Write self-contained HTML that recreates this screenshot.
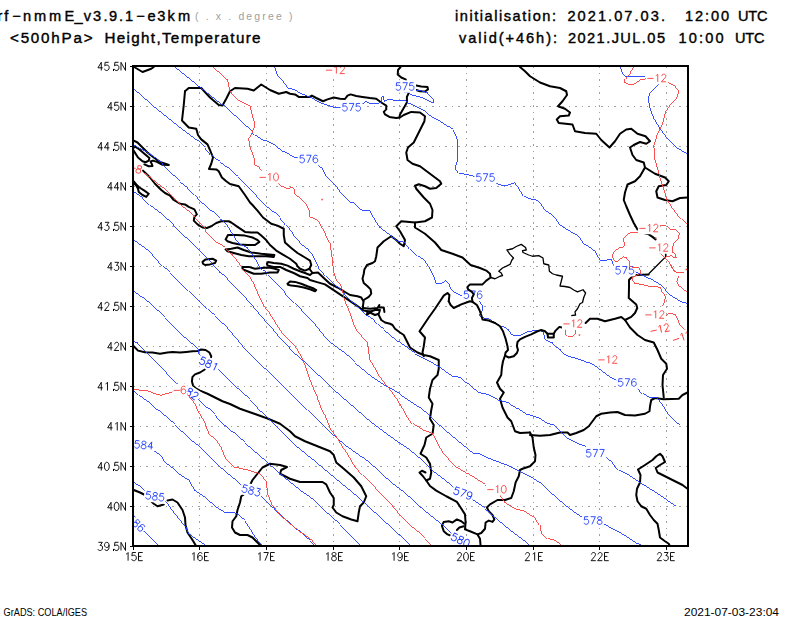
<!DOCTYPE html>
<html><head><meta charset="utf-8">
<style>
html,body{margin:0;padding:0;background:#fff;}
body{width:800px;height:618px;overflow:hidden;font-family:"Liberation Sans",sans-serif;}
svg{display:block;}
text{font-family:"Liberation Sans",sans-serif;fill:#000;}
.t1{font-size:14.6px;stroke:#000;stroke-width:0.4px;}
.tg{font-size:10.5px;fill:#a0a0a0;}
.tk{font-size:12.4px;}
.g line{stroke:#a0a0a0;stroke-width:1;stroke-dasharray:1.8 4.7;shape-rendering:crispEdges;}
.b{stroke:#1e3cff;stroke-width:0.9;fill:none;shape-rendering:crispEdges;}
.r{stroke:#fa3c3c;stroke-width:0.9;fill:none;shape-rendering:crispEdges;}
.k{stroke:#000;stroke-width:2;fill:none;stroke-linejoin:round;stroke-linecap:round;}
.n{stroke:#000;stroke-width:1.3;fill:none;stroke-linejoin:round;}
</style></head><body>
<svg width="800" height="618" viewBox="0 0 800 618">
<defs><clipPath id="cp"><rect x="133" y="66" width="555" height="480"/></clipPath></defs>
<rect width="800" height="618" fill="#fff"/>
<text class="t1" y="21.4" x="-2.4 4.3 12.2 23.1 33.9 48.9 64.4 74.4 83.8 92.9 103.5 108.9 119.0 125.0 136.2 147.4 157.2 167.6 177.9">rf−nmmE_v3.9.1−e3km</text>
<text class="tg" x="195" y="20" textLength="97.5" lengthAdjust="spacing" >( . x . degree )</text>
<text class="t1" transform="translate(10,43.1) scale(1.0,1)" textLength="82.5" lengthAdjust="spacing" style="font-size:15.2px">&lt;500hPa&gt;</text>
<text class="t1" transform="translate(104.5,43.1) scale(1.0,1)" textLength="156.0" lengthAdjust="spacing" style="font-size:15.2px">Height,Temperature</text>
<text class="t1" transform="translate(455,21.2) scale(1.0,1)" textLength="101.0" lengthAdjust="spacing" >initialisation:</text>
<text class="t1" transform="translate(567.4,21.2) scale(1.0,1)" textLength="97.6" lengthAdjust="spacing" >2021.07.03.</text>
<text class="t1" transform="translate(685,21.2) scale(1.0,1)" textLength="44.0" lengthAdjust="spacing" >12:00</text>
<text class="t1" transform="translate(738,21.2) scale(1.0,1)" textLength="29.5" lengthAdjust="spacing" >UTC</text>
<text class="t1" transform="translate(459,42.7) scale(1.0,1)" textLength="98.0" lengthAdjust="spacing" >valid(+46h):</text>
<text class="t1" transform="translate(568,42.7) scale(1.0,1)" textLength="97.0" lengthAdjust="spacing" >2021.JUL.05</text>
<text class="t1" transform="translate(678.5,42.7) scale(1.0,1)" textLength="45.0" lengthAdjust="spacing" >10:00</text>
<text class="t1" transform="translate(735,42.7) scale(1.0,1)" textLength="29.5" lengthAdjust="spacing" >UTC</text>

<g clip-path="url(#cp)">
<g class="g">
<line x1="199.5" y1="66" x2="199.5" y2="546"/>
<line x1="266.5" y1="66" x2="266.5" y2="546"/>
<line x1="333.5" y1="66" x2="333.5" y2="546"/>
<line x1="399.5" y1="66" x2="399.5" y2="546"/>
<line x1="466.5" y1="66" x2="466.5" y2="546"/>
<line x1="533.5" y1="66" x2="533.5" y2="546"/>
<line x1="599.5" y1="66" x2="599.5" y2="546"/>
<line x1="666.5" y1="66" x2="666.5" y2="546"/>
<line x1="133" y1="106.5" x2="688" y2="106.5"/>
<line x1="133" y1="146.5" x2="688" y2="146.5"/>
<line x1="133" y1="186.5" x2="688" y2="186.5"/>
<line x1="133" y1="226.5" x2="688" y2="226.5"/>
<line x1="133" y1="266.5" x2="688" y2="266.5"/>
<line x1="133" y1="306.5" x2="688" y2="306.5"/>
<line x1="133" y1="346.5" x2="688" y2="346.5"/>
<line x1="133" y1="386.5" x2="688" y2="386.5"/>
<line x1="133" y1="426.5" x2="688" y2="426.5"/>
<line x1="133" y1="466.5" x2="688" y2="466.5"/>
<line x1="133" y1="506.5" x2="688" y2="506.5"/>
</g>
<g>
<polyline class="k" points="135,67.5 142.5,72 151.25,68.75 153.75,67"/>
<polyline class="k" points="185,91.25 188.75,88 201.25,88 210,97.5 218.75,105 222.5,105.5 226.25,98.75 230,91.25 235,88 247.5,88.75 253.75,90.5 261.25,84.5 270,90 278.75,93.75 286.25,92 290,93.75 295,94.4 298.75,96.9 309.4,96.9 311.9,95.6 316.25,98 323,101.25 327.5,99.4 333.75,97.5 340,98.75 345,99 347.5,95.6 350.6,94.4 356.25,96 362.5,96.9 370,98 376.25,98.75 381.25,102.5 386.25,105.6 386.25,109.4 383.75,111.9 385,114.4 389.4,116.9 396.25,118 400,117.5 403.75,115 411.25,111.9 420,112.5 425,116.25 424.4,121.25 421.25,127.5 417.5,135 413.75,142.5 408,147.5 406.25,152.5 407.5,160 412.5,163.75 420,166.25 430,173.75 440,181.25 441.25,183.75 436.25,188 430,188.75 425,186.25 418.75,184.25 415,185.75 416.25,188.75 423.75,197.5 430,203.75 432.5,210 432,217.5 425,221.25 415,222.5 401.25,221.25 396.25,226.25 400,231.25 405,240 403.75,246.25 400,243.75 396.25,240 391.25,236.25 383.75,241.25 377.5,247.5 376.25,256.25 375,261.25 372.5,263 367,265 364.4,269.4 363.75,273.75 362.5,278.75 363.75,283 367.5,286.25 370.6,289.4 371.25,293.75 368.75,296.9 363.75,300 363,305.6 363,308"/>
<polyline class="k" points="185,91.25 183.75,105 182,120.5 188.75,127.5 196.25,128.75 198,135 201.25,139.4 207.5,144.4 210,150 213,157.5 211.25,163.75 209,169 216.25,169.4 218.75,171.25 221.9,177.5 226.25,181.25 230,184 238.75,186.25 245,195 250,202.5 252.5,205 257.5,210.6 263,217.5 271.25,223.75 277.5,225.6 283.75,228.75 283.75,235 285,242.5 291.25,248 297.5,253 305,257.5 310,260.6 311.25,265 309.4,268.75 305,270.6 300,268.75 297.5,266.25 296.25,263.75 290,258.75 282.5,254.4 276.25,250.6 270,245 265.6,239.4 261.25,235.6 257.5,232.5 251.25,232.5 245,231.9 237.5,226.9 231.25,222.5 228.75,221.25 221.25,221.25 216.25,223 211.25,226.25 206.9,228 202.5,227.5 197.5,224.4 193.75,220.6 194.4,216.9 196.9,214.4 194.4,209.4 188.75,206.9 185,204.4 180,203.75 173.75,200 170,195.6 165,193 161.25,190 155,183.75 150,177.5 146.25,173.75 143,170.6"/>
<polyline class="k" points="309.4,268.75 312.5,273 318,272.5 323.75,278 330,283.75 337.5,287.5 343.75,291.25 350,295 357.5,296.25 361.25,297.5 363,300.6"/>
<polyline class="k" points="312.5,273 310,275 305,273 300,271.25 293.75,268.75 287.5,265.6 281.25,263.75 273.75,263 268,261.9 266.9,263.75 267.5,265.6 273.75,266.9 280,266.9 286.25,270 293.75,273 300,276.25 307.5,278 310,280 316.25,281.9 325,284.4 332.5,289.4 340,294.4 347.5,299.4 355,304.4 361.25,308.75 363.75,310.6 367.5,311.25"/>
<polyline class="k" points="287.5,283.75 290,281.5 295,281.9 301.25,283.75 307.5,286.25 313.75,288.5 316.25,290 315,291.25 310,289.4 303.75,287.5 297.5,286.25 291.25,285.6 288,284.75 287.5,283.75"/>
<polyline class="k" points="225.6,239.4 228,235 236.25,235 245,235.6 252.5,237.5 257.5,240 259.4,241.9 255,245 247.5,245 240,244.4 232.5,243 227.5,241.25 225.6,239.4"/>
<polyline class="k" points="225.6,249.4 231.25,248.75 237.5,247.5 243.75,250 251.25,252.5 261.25,253.75 274.4,255 273.75,256.9 266.25,256.25 257.5,256.25 248.75,256.25 241.25,255 233.75,253 227.5,251.25 225.6,249.4"/>
<polyline class="k" points="241.9,266.9 248.75,266.9 255,268.75 261.25,268 268.75,267.5 275,268.75 278.75,270 277.5,272.5 270,272.5 261.25,273.75 253.75,273.75 247.5,271.25 243,269.4 241.9,266.9"/>
<polyline class="k" points="202.5,261.9 205.6,259.4 212.5,258.75 216.25,260.6 215,263 210,264.4 205,265 203,263.75 202.5,261.9"/>
<polyline class="k" points="133.75,140.6 137.5,142.5 141.25,146.25 147.5,152.5 153.75,157.5 160,161.9 167.5,164.4 168.75,165 162.5,164.75 156.9,161.9 153,160.6 150.6,161.5 151.9,164.4 152.5,166 148.75,166.25 144.4,164.4"/>
<polyline class="k" points="133.75,147.5 135.6,146.9 139.4,149.4 144.4,153.75 149.4,158 148.75,160.6 145.6,162.25 142.5,161.25 138,157.5 134.4,151.9 133.75,150.6"/>
<polyline class="k" points="133.75,181.25 136.25,184.4 139.4,187.5 144.4,190.6 148.75,193.75 146.25,196.9 142.5,195 138.75,191.9 138,188.75 136.25,185.6 133.75,183"/>
<polyline class="k" points="363,308 370,308.75 377.5,308 379.4,305 378,307.5 383.75,307.5 384.4,311.9"/>
<polyline class="k" points="367.5,311.25 366.9,315 370,312.5 375,315 378.75,313.75 380,310 375,310 371.25,311.25 367.5,311.25"/>
<polyline class="k" points="378.75,315 381.25,320 385,322.5 390,323.75 392.5,325 395,328.75 400,332.5 403.75,335 405,337.5 410,347.5 417.5,352.5 423.75,355 430,356.25 438.75,360 438.75,368.75 437.5,375 432.5,380 430,388.75 428.75,397.5 432.5,403.75 431.25,410 430,418.75 433.75,425 432.5,433.75 426.25,437.5 424.5,445 420.5,453.75 426.25,457.5 430,463.75 431.25,472.5 430,478.75 426.25,480.5 423,476.25 419.5,472.5 422,470.75 425.5,472.5"/>
<polyline class="k" points="426.25,480.5 430,486 436.25,490.6 446.25,496.25 456.9,501.9 460.6,507.5 465,514.4 465.6,522.5 465,529.4 470,531.25 477.5,534.4 480,538.75 480.6,546"/>
<polyline class="k" points="464.4,523.75 461.25,521.25 456.9,519.4 452.5,522.5 448.75,521.25 443.75,521.9 441.9,525.6 443.75,531.25 447.5,534.4 450.6,535.6"/>
<polyline class="k" points="547.5,333.75 548,337.5 553.75,337.5 553.75,333.75"/>
<polyline class="k" points="505,355.6 503,361.25 501.9,367.5 501.25,375 497,382.5 500,388.75 503.75,392.5 500,398.75 502.5,407.5 507.5,417.5 511.25,421.25 515,431.25 520,433 530,432.5"/>
<polyline class="k" points="530,435 540,435.75 550,435 560,432.5 567.5,432.5 570,435 576.25,433 583.75,430 588.75,426.25 592.5,421.25 596.25,416.25 601.25,413.75 610,412.5 617.5,412 625,415 635,415.5 645,413.75 649.5,411.25 650,406.25 651.25,400 655,398 663.75,399.25 678.75,398.75 682.5,395 687.5,392.5"/>
<polyline class="k" points="530,432.5 532.5,437.5 533.75,447.5 535.5,455 535,461.25 530,466.25 522.5,468.75 520,470 518.75,476.25 515.6,482.5 513.75,491.25 511.25,498 505,500 497.5,500 490,504.4 486.9,507.5 488.75,511.25 492.5,515 494.4,519.4 492.5,521.9 488.75,520.6 485.6,522.5 485,528.75 481.25,533 477.5,534.4"/>
<polyline class="k" points="585.6,323 590,318.75 597.5,318.75 605,321.25 615,318.75 621.25,317 625,320 630,327.5 637.5,335 645,340 653.75,342.5 657.5,350 661.25,358.75 666.25,363.75 667,368.75 663,375 662.5,385 663.75,397.5"/>
<polyline class="k" points="625,320 631.25,316.9 635,313 637.25,308 636.25,304.4 632.5,301.25 628.75,298 629,287.5 629,280 631.9,276.9 636.25,275 642.5,274.75 648.75,274.4"/>
<polyline class="k" points="520,67 525,71.25 530,76.25 540,82.5 550,86.25 560,88 566.25,91.25 567,95 562.5,101.25 558,106.25 565,108.75 570,112.5 568.75,115.5 560,116.25 556.75,119.5 558.75,123 572.5,124.5 575,131.25 585,133 596.25,133.75 601.25,140 609.5,147.5 615,141.25 620,133.75 626.25,129.5 631.25,128.75 637.5,133.75 645.5,136.25 650,141.25 646.25,143.75 640,142 633.75,145 630,147.5 632.5,155 636.25,160 643.75,162.5 645,167.5 655,173.75 665,177.5 668.75,181.25 666.25,185 658.75,186.25 656.25,191.25 657.5,197.5 665,200 672.5,201.25 680,198 687.5,197.5"/>
<polyline class="k" points="645,167.5 640,176.25 635,181.25 627.5,184.5 625,192.5 623.75,200 626.25,206.25 630,215 633.75,223 637.5,229.4 643.75,233 648.75,234.4 652.5,236.9 655.6,239.4"/>
<polyline class="k" points="416.25,85.6 421.25,86.5 427.5,86.9 428,89.4 425,91.5 420,91.25 416.25,90"/>
<polyline class="k" points="400.6,67 398,70 397.75,74.4 401.25,77.5 405.6,79.4 408,86 408.75,93 406.9,96.9 406.9,102.5 403.75,108 400,114.4 399.4,117.5"/>
<polyline class="k" points="133.75,346.25 138,350.6 145,352.25 152.5,352.5 160,353.75 167.5,352.5 172.5,351.9 180,352.5 186.25,351.9 192.5,351.25 198,351 201.25,349.4 205.6,350 209.4,352.5 211.25,356.25 209.5,363 204.4,369.75 200,372.5 195,374.4 192.5,376.9 191.9,381.25 193,385.6 196.25,388.75 200,390.6 207.5,393.75 215,397.5 222.5,401.25 230,404 240,408.75 255,414 267.5,418.5 280,423.75 290,431.25 295,436.25 305,441.25 317.5,446.25 330,451.25 333.75,455 336.25,462.5 343.75,468.75 353.75,477.5 361.25,486.25 366.25,496.25 363.75,502.5 360,506.25 358.75,512.5 357.5,521.25 351.25,519.5 342.5,516.25 336.25,512.5 332.5,507.5 333.75,505 333.75,498 330,492.5 326.25,484.4 322.5,482 310,482 300,482 290,478.75 280,473.75 281.25,470 287,467 280,465 270,463.75 262.5,467.5 257.5,473.75 252.5,480 248.75,487.5 245,493.75 241.25,496.25 240,502.5 237.5,510 236.25,516.25 232.5,521.25 232,527.5 235,532.5 240,535 247.5,535 252.5,537.5 257.5,542.5 261.25,546.25"/>
<polyline class="k" points="133.75,490 140,492.5 145,495 153.75,503.75 157.5,506.25 163.75,504.5"/>
<polyline class="k" points="167.5,500.5 172.5,499.5 177.5,502.5 182.5,510 185,517.5 185.5,525 187.5,532.5 192.5,540 196.25,546.25"/>
<polyline class="k" points="687.5,488.75 682.5,485 672.5,480 662.5,475 657.5,472.5 655.75,468 660,465 665,462 662.5,456.25 660,453.75 656.25,456.25 652.5,460 645,465 638,469.5 640.5,475 640,482.5 637,488.75 636.25,495 637.5,501.25 641.25,506.25 646.25,508.75 650,515 653.75,520 657.5,523.75 658.75,530 660,537.5 665,541.25 668.75,543.75 670,546.25"/>
<polyline class="k" points="463.75,526.25 459.4,527.5 456.9,530"/>
<polyline class="n" points="490.6,277.5 495,278.75 500,276.25 502.5,275.6 501.25,273 498.75,271.25 502.5,268 507.5,265.6 510,264.4 510,264.4 511.9,260 513.5,258 510,254.4 506.9,250 512.5,248.75 516.25,246.5 521.25,244.4 525.6,247.5 526.25,250 522.5,250.6 523,252.5 528.75,255 532.5,256.25 538.75,255.6 543,258 543.75,263.75 548.75,265 549.4,271.25 552.5,273.75 556.25,275 562.5,276.25 561.25,281.25 560,286 565,286.5 570,287.5 573.75,290 577.5,291.9 583,289.75 585.6,293 583.75,297.5 582.5,302.5 580,303.75 577.5,308.75 575,311.9 575.6,315 571.25,315.6"/>
<polyline class="n" points="665.6,251.9 665.6,256.9 658.75,263.75 653.75,268.75 648.75,273.75"/>

</g>
<g>
<polyline class="b" points="404.4,92.5 408.75,93 412.5,95.6 420,96.9 425,98.75 430,101.9 433,102.5 433.75,100.6 431.25,96.9 427.5,93 423.75,91.25 416.25,90 405,86.5 404.4,92.5"/>
<polyline class="b" points="274.5,67 277.5,75 285,83.75 288.5,88.6 293.75,89.4 300,93 307.5,96.25 315,100 322.5,103.75 332.5,107.25 340,107.25 351,107.25 362.5,103 365,101.25 371.25,103.75 377.5,103 381.25,101.9 381.9,96.9 383.5,96.5 384.4,101.25 388.75,99.4 395,100.25 405,100.25 407.5,103 417.5,107.5 426.25,112.5 432.5,117.5 440,121.25 447.5,126.25 453,130 455,133.75 457.5,140 457.5,160 455,167.5 458.75,173 468.75,175 473.75,176.25 485,178 495,182.5 502.5,185.75 510,184.5 515,182.5 518.75,187.5 523.75,196.25 530,198.75 536.25,200 540,203 545,210 553.75,216.25 560,225 570,231.25 578.75,236.25 583.75,243.75 590,247.5 595,251.25 598.75,258 600,260 605,260.6 610,259.4 611.9,260 612.5,263.75 615,266.9 616.25,268 624.7,270.3 636.25,272 640,273.75 646.25,276.9 653.75,280.6 660,284.4 665,289.4 670,295 676.25,298.75 682.5,302.25 687.5,303.5"/>
<polyline class="b" points="620,67 623,73.75 626.25,77 645,76.75"/>
<polyline class="b" points="660,83 655,87.5 649.5,92.5 648.25,97.5 650,107.5 655,120 660,128.75 667.5,138.75 677.5,148.75 687.5,154.5"/>
<polyline class="b" points="175,67 198.75,86.25 222.5,105 252.5,132.5 255,135 262.5,140 266.25,140.6 273.75,144.4 282.5,151.25 290,155 295,157.5 298.75,158 308.75,159 317,164 322.5,168.75 325.6,175.6 333,183 336.9,186.9 340.6,192.5 350,201.9 353.75,203 360,208.75 362.5,210 370,211.25 375,220 380,227.5 390,235 397.5,241.25 405,242.5 410,248.75 417.5,256.25 425,261.25 430,268.75 433.75,276.25 436.25,283.75 441.25,283.75 445.6,280.6 448.75,283.75 451.25,289.4 455,292.5 460,295 463,296.25 473,296 479.4,300.6 482.5,306.25 482.5,310.6 479.4,315 481.25,317.5 488.75,318.75 498.75,325 500,326.25 503.75,326.9 508,329.4 511.25,334.4 515,335.6 521.25,335 527.5,331.9 533.75,330.4 540,330.4 543.75,332.5 544.4,337.5 546.9,340.6 552.5,343 556.25,346.9 560,349.4 563.75,353.75 568.75,356.25 575,358 581.25,360 587.5,362.5 593.75,365 600,369.4 610,377 616.25,380 627.25,383 637.5,387.5 642.5,393.75 648.75,397.5 657.5,398 662.5,405 668.75,415 675,421.25 680,425"/>
<polyline class="b" points="133.75,88.75 155,107.5 180,127.5 197.5,140.6 205,147.5 211.25,155 217.5,160 220,161.9 227.5,167.5 237.5,176.9 245,184.4 252.5,191.25 260,200 265.6,205.5 272.5,211.25 280,217.5 286.25,225 292.5,232.5 297.5,239.4 301.25,244.4 307.5,248.75 312.5,255 315,260 318.75,267.5 326.25,276.25 333.75,283.75 341.25,290 346.25,296.25 352.5,302.5 360,309.4 366.25,315 372.5,318.75 377.5,324.4 383.75,330 390,335 397.5,341.25 415,353.75 430,361.25 440,367.5 452.5,376.25 460,377.5 467.5,383.75 477.5,392.5 487.5,394.5 497.5,400 507.5,402.5 517.5,408.75 525,413.75 530,415 537.5,417.5 545,422.5 553.75,425 560,431.25 567.5,438.75 577.5,443.75 585,446.25 595.25,453.25 606.25,457.5 612.5,462.5 618.75,470 628.75,475 640,482.5 650,488.75 660,495 668.75,501.25 676.25,506.25"/>
<polyline class="b" points="133.75,145 142.5,150 152.5,156.25 162.5,164.4 172.5,175 180,181.9 187.5,187.5 195,195 201.25,202.5 205,205 212.5,211.9 220,218.75 226.25,223.75 230,230 235,237.5 240,243.75 247.5,248 252.5,255 257.5,262.5 262.5,270 268,275 276.25,283 285,292.5 295,303 305,313.75 315,324.4 324.4,336 330,342 342.5,351.25 355,363 371.25,376.25 387.5,387 400,394.4 417.5,406.25 430,416.5 445,430 460,442.5 473.75,453.75 480,453.75 490,458.75 500,462.5 510,466.25 520,471.25 530,476.25 537.5,481.25 545,487.5 555,496.25 565,505 575,512.5 582.5,517.5 593,520.5 603.75,523.75 610,527.5 620,532.5 630,538.75 637.5,543.75 641.25,545.5"/>
<polyline class="b" points="133.75,191.5 142.5,197.5 150,205 160,212.5 170,221.25 180,231.9 190,241.25 200,251.25 210,261.25 220,272.5 223.75,275 232.5,284.4 242.5,294.4 251.25,304.4 257.5,311.9 265,320.6 272.5,328.75 280,338 285,343 291.25,350 302.5,360.6 317.5,375 330,386.5 350,403.75 370,421.25 390,436.25 410,450 425,462.5 435,472.5 445,480 453.75,487.5 463,493.25 472.5,500 485,508.75 495,517.5 510,530 525,541.25 530,545.5"/>
<polyline class="b" points="133.75,240 142.5,246.25 152.5,255.6 162.5,266.25 170,273 171.9,275 180,282.5 188.75,291.25 198.75,300.6 207.5,309.4 215,316.25 222.5,323.75 227.5,328 235,336.9 241.25,344.4 245.6,350 260,363.75 275,378 285,388 300,402.5 307.5,410 320,422.5 330,432 345,445 362.5,457.5 380,472.5 397.5,487.5 415,502.5 430,515 442.5,525 451.25,533.75 460.5,540 470,547"/>
<polyline class="b" points="133.75,291.25 142.5,297.5 152.5,306.25 165,318 176.25,329.4 185,337.5 188,340 193.75,345 198,349.4 198.75,353.75 208.75,363.75 219.4,370 225,375.6 230,381 237.5,388.75 250,400 259.4,410 270,420 280,430 290,440 297.5,447.5 307.5,456.25 316.25,462.5 333.75,476.9 345,486.25 360,498.75 375,512.5 390,526.25 405,540 411.25,546.25"/>
<polyline class="b" points="133.75,341.25 137.5,343 142.5,348.75 152.5,358.75 162.5,368.75 171.25,378 175.6,382.5 187,391 198.75,399.4 207.5,408 215,415 220,421.25 232.5,432 245,443 256,452.5 266.25,461.25 280,473.75 287,479.5 300,490 312.5,498.75 327.5,513.75 340,525 350,535 360,545 362,547"/>
<polyline class="b" points="133.75,389.5 138.75,395 145,399.4 151.25,403.75 156.25,409.4 157.5,410 175,425 192.5,441.25 210,457.5 225,471.25 237.5,481.25 241.25,485 251.25,490.5 261.25,496.25 272.5,507.5 285,518.75 297.5,530 310,541.25 315,546.25"/>
<polyline class="b" points="133.75,440 143.75,445 153.75,450.8 161.25,455.6 164.4,461.9 171.25,466.9 181.25,475.6 188.75,480 195,490.6 206.25,498 215,506.25 225,512.5 235,513 237.5,514.4 245,521.25 252.5,532.5 260,542.5 263.75,546.25"/>
<polyline class="b" points="133.75,482.5 140,486.25 145,491.25 154.25,496.25 166.3,502 172.5,510.6 179.4,519.6 186.2,527.6 188.4,533.2 195.2,538.3 205,545 208,547"/>
<polyline class="b" points="133.75,522 136,525 143.75,531.25 152.5,540 158.75,546.25"/>

<rect transform="translate(405,86.5) rotate(0)" x="-11.0" y="-6.25" width="22.0" height="12.5" fill="#fff"/><g transform="translate(405,86.5) scale(0.95,0.95)" fill="none" stroke="#1e3cff" stroke-width="0.95" shape-rendering="crispEdges" stroke-linejoin="round"><polyline points="-5.00,-4.00 -8.80,-4.00 -9.20,-0.60 -8.60,-1.00 -7.50,-1.30 -6.50,-1.30 -5.40,-0.90 -4.70,0.00 -4.50,1.20 -4.70,2.40 -5.40,3.40 -6.50,4.00 -7.50,4.00 -8.60,3.60 -9.20,3.10 -9.50,2.40"/><polyline points="-2.50,-4.00 2.50,-4.00 -1.10,4.00"/><polyline points="9.00,-4.00 5.20,-4.00 4.80,-0.60 5.40,-1.00 6.50,-1.30 7.50,-1.30 8.60,-0.90 9.30,0.00 9.50,1.20 9.30,2.40 8.60,3.40 7.50,4.00 6.50,4.00 5.40,3.60 4.80,3.10 4.50,2.40"/></g>
<rect transform="translate(351.5,107.25) rotate(0)" x="-11.0" y="-6.25" width="22.0" height="12.5" fill="#fff"/><g transform="translate(351.5,107.25) scale(0.95,0.95)" fill="none" stroke="#1e3cff" stroke-width="0.95" shape-rendering="crispEdges" stroke-linejoin="round"><polyline points="-5.00,-4.00 -8.80,-4.00 -9.20,-0.60 -8.60,-1.00 -7.50,-1.30 -6.50,-1.30 -5.40,-0.90 -4.70,0.00 -4.50,1.20 -4.70,2.40 -5.40,3.40 -6.50,4.00 -7.50,4.00 -8.60,3.60 -9.20,3.10 -9.50,2.40"/><polyline points="-2.50,-4.00 2.50,-4.00 -1.10,4.00"/><polyline points="9.00,-4.00 5.20,-4.00 4.80,-0.60 5.40,-1.00 6.50,-1.30 7.50,-1.30 8.60,-0.90 9.30,0.00 9.50,1.20 9.30,2.40 8.60,3.40 7.50,4.00 6.50,4.00 5.40,3.60 4.80,3.10 4.50,2.40"/></g>
<rect transform="translate(485.4,177.5) rotate(0)" x="-11.0" y="-6.25" width="22.0" height="12.5" fill="#fff"/><g transform="translate(485.4,177.5) scale(0.95,0.95)" fill="none" stroke="#1e3cff" stroke-width="0.95" shape-rendering="crispEdges" stroke-linejoin="round"><polyline points="-5.00,-4.00 -8.80,-4.00 -9.20,-0.60 -8.60,-1.00 -7.50,-1.30 -6.50,-1.30 -5.40,-0.90 -4.70,0.00 -4.50,1.20 -4.70,2.40 -5.40,3.40 -6.50,4.00 -7.50,4.00 -8.60,3.60 -9.20,3.10 -9.50,2.40"/><polyline points="-2.50,-4.00 2.50,-4.00 -1.10,4.00"/><polyline points="9.00,-4.00 5.20,-4.00 4.80,-0.60 5.40,-1.00 6.50,-1.30 7.50,-1.30 8.60,-0.90 9.30,0.00 9.50,1.20 9.30,2.40 8.60,3.40 7.50,4.00 6.50,4.00 5.40,3.60 4.80,3.10 4.50,2.40"/></g>
<rect transform="translate(624.7,270.3) rotate(0)" x="-11.0" y="-6.25" width="22.0" height="12.5" fill="#fff"/><g transform="translate(624.7,270.3) scale(0.95,0.95)" fill="none" stroke="#1e3cff" stroke-width="0.95" shape-rendering="crispEdges" stroke-linejoin="round"><polyline points="-5.00,-4.00 -8.80,-4.00 -9.20,-0.60 -8.60,-1.00 -7.50,-1.30 -6.50,-1.30 -5.40,-0.90 -4.70,0.00 -4.50,1.20 -4.70,2.40 -5.40,3.40 -6.50,4.00 -7.50,4.00 -8.60,3.60 -9.20,3.10 -9.50,2.40"/><polyline points="-2.50,-4.00 2.50,-4.00 -1.10,4.00"/><polyline points="9.00,-4.00 5.20,-4.00 4.80,-0.60 5.40,-1.00 6.50,-1.30 7.50,-1.30 8.60,-0.90 9.30,0.00 9.50,1.20 9.30,2.40 8.60,3.40 7.50,4.00 6.50,4.00 5.40,3.60 4.80,3.10 4.50,2.40"/></g>
<rect transform="translate(308.75,159) rotate(0)" x="-11.0" y="-6.25" width="22.0" height="12.5" fill="#fff"/><g transform="translate(308.75,159) scale(0.95,0.95)" fill="none" stroke="#1e3cff" stroke-width="0.95" shape-rendering="crispEdges" stroke-linejoin="round"><polyline points="-5.00,-4.00 -8.80,-4.00 -9.20,-0.60 -8.60,-1.00 -7.50,-1.30 -6.50,-1.30 -5.40,-0.90 -4.70,0.00 -4.50,1.20 -4.70,2.40 -5.40,3.40 -6.50,4.00 -7.50,4.00 -8.60,3.60 -9.20,3.10 -9.50,2.40"/><polyline points="-2.50,-4.00 2.50,-4.00 -1.10,4.00"/><polyline points="9.10,-2.90 8.70,-3.60 7.70,-4.00 6.90,-4.00 5.80,-3.50 5.00,-2.40 4.60,-0.60 4.60,1.40 5.00,2.90 5.80,3.70 6.80,4.00 7.30,4.00 8.40,3.60 9.10,2.80 9.50,1.60 9.50,1.20 9.10,0.00 8.40,-0.80 7.30,-1.10 6.80,-1.10 5.80,-0.70 5.00,0.10 4.60,1.20"/></g>
<rect transform="translate(473,294.75) rotate(0)" x="-11.0" y="-6.25" width="22.0" height="12.5" fill="#fff"/><g transform="translate(473,294.75) scale(0.95,0.95)" fill="none" stroke="#1e3cff" stroke-width="0.95" shape-rendering="crispEdges" stroke-linejoin="round"><polyline points="-5.00,-4.00 -8.80,-4.00 -9.20,-0.60 -8.60,-1.00 -7.50,-1.30 -6.50,-1.30 -5.40,-0.90 -4.70,0.00 -4.50,1.20 -4.70,2.40 -5.40,3.40 -6.50,4.00 -7.50,4.00 -8.60,3.60 -9.20,3.10 -9.50,2.40"/><polyline points="-2.50,-4.00 2.50,-4.00 -1.10,4.00"/><polyline points="9.10,-2.90 8.70,-3.60 7.70,-4.00 6.90,-4.00 5.80,-3.50 5.00,-2.40 4.60,-0.60 4.60,1.40 5.00,2.90 5.80,3.70 6.80,4.00 7.30,4.00 8.40,3.60 9.10,2.80 9.50,1.60 9.50,1.20 9.10,0.00 8.40,-0.80 7.30,-1.10 6.80,-1.10 5.80,-0.70 5.00,0.10 4.60,1.20"/></g>
<rect transform="translate(627.25,382.5) rotate(0)" x="-11.0" y="-6.25" width="22.0" height="12.5" fill="#fff"/><g transform="translate(627.25,382.5) scale(0.95,0.95)" fill="none" stroke="#1e3cff" stroke-width="0.95" shape-rendering="crispEdges" stroke-linejoin="round"><polyline points="-5.00,-4.00 -8.80,-4.00 -9.20,-0.60 -8.60,-1.00 -7.50,-1.30 -6.50,-1.30 -5.40,-0.90 -4.70,0.00 -4.50,1.20 -4.70,2.40 -5.40,3.40 -6.50,4.00 -7.50,4.00 -8.60,3.60 -9.20,3.10 -9.50,2.40"/><polyline points="-2.50,-4.00 2.50,-4.00 -1.10,4.00"/><polyline points="9.10,-2.90 8.70,-3.60 7.70,-4.00 6.90,-4.00 5.80,-3.50 5.00,-2.40 4.60,-0.60 4.60,1.40 5.00,2.90 5.80,3.70 6.80,4.00 7.30,4.00 8.40,3.60 9.10,2.80 9.50,1.60 9.50,1.20 9.10,0.00 8.40,-0.80 7.30,-1.10 6.80,-1.10 5.80,-0.70 5.00,0.10 4.60,1.20"/></g>
<rect transform="translate(595.25,453.25) rotate(0)" x="-11.0" y="-6.25" width="22.0" height="12.5" fill="#fff"/><g transform="translate(595.25,453.25) scale(0.95,0.95)" fill="none" stroke="#1e3cff" stroke-width="0.95" shape-rendering="crispEdges" stroke-linejoin="round"><polyline points="-5.00,-4.00 -8.80,-4.00 -9.20,-0.60 -8.60,-1.00 -7.50,-1.30 -6.50,-1.30 -5.40,-0.90 -4.70,0.00 -4.50,1.20 -4.70,2.40 -5.40,3.40 -6.50,4.00 -7.50,4.00 -8.60,3.60 -9.20,3.10 -9.50,2.40"/><polyline points="-2.50,-4.00 2.50,-4.00 -1.10,4.00"/><polyline points="4.50,-4.00 9.50,-4.00 5.90,4.00"/></g>
<rect transform="translate(593,520.5) rotate(0)" x="-11.0" y="-6.25" width="22.0" height="12.5" fill="#fff"/><g transform="translate(593,520.5) scale(0.95,0.95)" fill="none" stroke="#1e3cff" stroke-width="0.95" shape-rendering="crispEdges" stroke-linejoin="round"><polyline points="-5.00,-4.00 -8.80,-4.00 -9.20,-0.60 -8.60,-1.00 -7.50,-1.30 -6.50,-1.30 -5.40,-0.90 -4.70,0.00 -4.50,1.20 -4.70,2.40 -5.40,3.40 -6.50,4.00 -7.50,4.00 -8.60,3.60 -9.20,3.10 -9.50,2.40"/><polyline points="-2.50,-4.00 2.50,-4.00 -1.10,4.00"/><polyline points="6.40,-4.00 5.30,-3.60 4.90,-2.80 4.90,-2.10 5.30,-1.30 6.10,-0.80 7.70,-0.30 8.80,0.20 9.30,1.00 9.50,1.80 9.30,2.90 8.80,3.60 7.70,4.00 6.30,4.00 5.20,3.60 4.70,2.90 4.50,1.80 4.70,1.00 5.20,0.20 6.30,-0.30 7.90,-0.80 8.70,-1.30 9.10,-2.10 9.10,-2.80 8.70,-3.60 7.60,-4.00 6.40,-4.00"/></g>
<rect transform="translate(463,493.25) rotate(20)" x="-11.0" y="-6.25" width="22.0" height="12.5" fill="#fff"/><g transform="translate(463,493.25) rotate(20) scale(0.95,0.95)" fill="none" stroke="#1e3cff" stroke-width="0.95" shape-rendering="crispEdges" stroke-linejoin="round"><polyline points="-5.00,-4.00 -8.80,-4.00 -9.20,-0.60 -8.60,-1.00 -7.50,-1.30 -6.50,-1.30 -5.40,-0.90 -4.70,0.00 -4.50,1.20 -4.70,2.40 -5.40,3.40 -6.50,4.00 -7.50,4.00 -8.60,3.60 -9.20,3.10 -9.50,2.40"/><polyline points="-2.50,-4.00 2.50,-4.00 -1.10,4.00"/><polyline points="9.40,-1.30 9.00,-0.10 8.20,0.70 7.20,1.10 6.80,1.10 5.70,0.70 4.90,-0.10 4.50,-1.30 4.50,-1.70 4.90,-2.90 5.70,-3.60 6.80,-4.00 7.20,-4.00 8.20,-3.60 9.00,-2.90 9.40,-1.30 9.40,0.60 9.00,2.40 8.20,3.60 7.20,4.00 6.40,4.00 5.30,3.60 4.90,2.90"/></g>
<rect transform="translate(460.5,540) rotate(25)" x="-11.0" y="-6.25" width="22.0" height="12.5" fill="#fff"/><g transform="translate(460.5,540) rotate(25) scale(0.95,0.95)" fill="none" stroke="#1e3cff" stroke-width="0.95" shape-rendering="crispEdges" stroke-linejoin="round"><polyline points="-5.00,-4.00 -8.80,-4.00 -9.20,-0.60 -8.60,-1.00 -7.50,-1.30 -6.50,-1.30 -5.40,-0.90 -4.70,0.00 -4.50,1.20 -4.70,2.40 -5.40,3.40 -6.50,4.00 -7.50,4.00 -8.60,3.60 -9.20,3.10 -9.50,2.40"/><polyline points="-0.60,-4.00 -1.70,-3.60 -2.10,-2.80 -2.10,-2.10 -1.70,-1.30 -0.90,-0.80 0.70,-0.30 1.80,0.20 2.30,1.00 2.50,1.80 2.30,2.90 1.80,3.60 0.70,4.00 -0.70,4.00 -1.80,3.60 -2.30,2.90 -2.50,1.80 -2.30,1.00 -1.80,0.20 -0.70,-0.30 0.90,-0.80 1.70,-1.30 2.10,-2.10 2.10,-2.80 1.70,-3.60 0.60,-4.00 -0.60,-4.00"/><polyline points="6.50,-4.00 7.50,-4.00 8.70,-3.20 9.50,-1.40 9.50,1.40 8.70,3.20 7.50,4.00 6.50,4.00 5.30,3.20 4.50,1.40 4.50,-1.40 5.30,-3.20 6.50,-4.00"/></g>
<rect transform="translate(208.75,363.75) rotate(25)" x="-11.0" y="-6.25" width="22.0" height="12.5" fill="#fff"/><g transform="translate(208.75,363.75) rotate(25) scale(0.95,0.95)" fill="none" stroke="#1e3cff" stroke-width="0.95" shape-rendering="crispEdges" stroke-linejoin="round"><polyline points="-5.00,-4.00 -8.80,-4.00 -9.20,-0.60 -8.60,-1.00 -7.50,-1.30 -6.50,-1.30 -5.40,-0.90 -4.70,0.00 -4.50,1.20 -4.70,2.40 -5.40,3.40 -6.50,4.00 -7.50,4.00 -8.60,3.60 -9.20,3.10 -9.50,2.40"/><polyline points="-0.60,-4.00 -1.70,-3.60 -2.10,-2.80 -2.10,-2.10 -1.70,-1.30 -0.90,-0.80 0.70,-0.30 1.80,0.20 2.30,1.00 2.50,1.80 2.30,2.90 1.80,3.60 0.70,4.00 -0.70,4.00 -1.80,3.60 -2.30,2.90 -2.50,1.80 -2.30,1.00 -1.80,0.20 -0.70,-0.30 0.90,-0.80 1.70,-1.30 2.10,-2.10 2.10,-2.80 1.70,-3.60 0.60,-4.00 -0.60,-4.00"/><polyline points="5.70,-2.40 6.50,-2.80 7.70,-4.00 7.70,4.00"/></g>
<rect transform="translate(189.4,391.9) rotate(34)" x="-11.0" y="-6.25" width="22.0" height="12.5" fill="#fff"/><g transform="translate(189.4,391.9) rotate(34) scale(0.95,0.95)" fill="none" stroke="#1e3cff" stroke-width="0.95" shape-rendering="crispEdges" stroke-linejoin="round"><polyline points="-5.00,-4.00 -8.80,-4.00 -9.20,-0.60 -8.60,-1.00 -7.50,-1.30 -6.50,-1.30 -5.40,-0.90 -4.70,0.00 -4.50,1.20 -4.70,2.40 -5.40,3.40 -6.50,4.00 -7.50,4.00 -8.60,3.60 -9.20,3.10 -9.50,2.40"/><polyline points="-0.60,-4.00 -1.70,-3.60 -2.10,-2.80 -2.10,-2.10 -1.70,-1.30 -0.90,-0.80 0.70,-0.30 1.80,0.20 2.30,1.00 2.50,1.80 2.30,2.90 1.80,3.60 0.70,4.00 -0.70,4.00 -1.80,3.60 -2.30,2.90 -2.50,1.80 -2.30,1.00 -1.80,0.20 -0.70,-0.30 0.90,-0.80 1.70,-1.30 2.10,-2.10 2.10,-2.80 1.70,-3.60 0.60,-4.00 -0.60,-4.00"/><polyline points="4.80,-2.10 5.20,-3.00 6.10,-3.80 6.90,-4.00 7.70,-4.00 8.50,-3.60 9.10,-2.80 9.20,-1.90 8.90,-1.00 8.10,0.10 4.50,4.00 9.50,4.00"/></g>
<rect transform="translate(251.25,490.5) rotate(15)" x="-11.0" y="-6.25" width="22.0" height="12.5" fill="#fff"/><g transform="translate(251.25,490.5) rotate(15) scale(0.95,0.95)" fill="none" stroke="#1e3cff" stroke-width="0.95" shape-rendering="crispEdges" stroke-linejoin="round"><polyline points="-5.00,-4.00 -8.80,-4.00 -9.20,-0.60 -8.60,-1.00 -7.50,-1.30 -6.50,-1.30 -5.40,-0.90 -4.70,0.00 -4.50,1.20 -4.70,2.40 -5.40,3.40 -6.50,4.00 -7.50,4.00 -8.60,3.60 -9.20,3.10 -9.50,2.40"/><polyline points="-0.60,-4.00 -1.70,-3.60 -2.10,-2.80 -2.10,-2.10 -1.70,-1.30 -0.90,-0.80 0.70,-0.30 1.80,0.20 2.30,1.00 2.50,1.80 2.30,2.90 1.80,3.60 0.70,4.00 -0.70,4.00 -1.80,3.60 -2.30,2.90 -2.50,1.80 -2.30,1.00 -1.80,0.20 -0.70,-0.30 0.90,-0.80 1.70,-1.30 2.10,-2.10 2.10,-2.80 1.70,-3.60 0.60,-4.00 -0.60,-4.00"/><polyline points="5.00,-4.00 9.20,-4.00 6.90,-0.90 8.00,-0.90 8.80,-0.50 9.40,0.60 9.40,1.60 9.00,2.90 8.20,3.70 7.10,4.00 6.10,4.00 5.10,3.60 4.50,2.80"/></g>
<rect transform="translate(143.75,445) rotate(5)" x="-11.0" y="-6.25" width="22.0" height="12.5" fill="#fff"/><g transform="translate(143.75,445) rotate(5) scale(0.95,0.95)" fill="none" stroke="#1e3cff" stroke-width="0.95" shape-rendering="crispEdges" stroke-linejoin="round"><polyline points="-5.00,-4.00 -8.80,-4.00 -9.20,-0.60 -8.60,-1.00 -7.50,-1.30 -6.50,-1.30 -5.40,-0.90 -4.70,0.00 -4.50,1.20 -4.70,2.40 -5.40,3.40 -6.50,4.00 -7.50,4.00 -8.60,3.60 -9.20,3.10 -9.50,2.40"/><polyline points="-0.60,-4.00 -1.70,-3.60 -2.10,-2.80 -2.10,-2.10 -1.70,-1.30 -0.90,-0.80 0.70,-0.30 1.80,0.20 2.30,1.00 2.50,1.80 2.30,2.90 1.80,3.60 0.70,4.00 -0.70,4.00 -1.80,3.60 -2.30,2.90 -2.50,1.80 -2.30,1.00 -1.80,0.20 -0.70,-0.30 0.90,-0.80 1.70,-1.30 2.10,-2.10 2.10,-2.80 1.70,-3.60 0.60,-4.00 -0.60,-4.00"/><polyline points="8.10,-4.00 4.50,1.40 9.70,1.40"/><polyline points="8.10,-4.00 8.10,4.00"/></g>
<rect transform="translate(155,496.3) rotate(8)" x="-11.0" y="-6.25" width="22.0" height="12.5" fill="#fff"/><g transform="translate(155,496.3) rotate(8) scale(0.95,0.95)" fill="none" stroke="#1e3cff" stroke-width="0.95" shape-rendering="crispEdges" stroke-linejoin="round"><polyline points="-5.00,-4.00 -8.80,-4.00 -9.20,-0.60 -8.60,-1.00 -7.50,-1.30 -6.50,-1.30 -5.40,-0.90 -4.70,0.00 -4.50,1.20 -4.70,2.40 -5.40,3.40 -6.50,4.00 -7.50,4.00 -8.60,3.60 -9.20,3.10 -9.50,2.40"/><polyline points="-0.60,-4.00 -1.70,-3.60 -2.10,-2.80 -2.10,-2.10 -1.70,-1.30 -0.90,-0.80 0.70,-0.30 1.80,0.20 2.30,1.00 2.50,1.80 2.30,2.90 1.80,3.60 0.70,4.00 -0.70,4.00 -1.80,3.60 -2.30,2.90 -2.50,1.80 -2.30,1.00 -1.80,0.20 -0.70,-0.30 0.90,-0.80 1.70,-1.30 2.10,-2.10 2.10,-2.80 1.70,-3.60 0.60,-4.00 -0.60,-4.00"/><polyline points="9.00,-4.00 5.20,-4.00 4.80,-0.60 5.40,-1.00 6.50,-1.30 7.50,-1.30 8.60,-0.90 9.30,0.00 9.50,1.20 9.30,2.40 8.60,3.40 7.50,4.00 6.50,4.00 5.40,3.60 4.80,3.10 4.50,2.40"/></g>
<rect transform="translate(136.3,523.2) rotate(43)" x="-11.0" y="-6.25" width="22.0" height="12.5" fill="#fff"/><g transform="translate(136.3,523.2) rotate(43) scale(0.95,0.95)" fill="none" stroke="#1e3cff" stroke-width="0.95" shape-rendering="crispEdges" stroke-linejoin="round"><polyline points="-5.00,-4.00 -8.80,-4.00 -9.20,-0.60 -8.60,-1.00 -7.50,-1.30 -6.50,-1.30 -5.40,-0.90 -4.70,0.00 -4.50,1.20 -4.70,2.40 -5.40,3.40 -6.50,4.00 -7.50,4.00 -8.60,3.60 -9.20,3.10 -9.50,2.40"/><polyline points="-0.60,-4.00 -1.70,-3.60 -2.10,-2.80 -2.10,-2.10 -1.70,-1.30 -0.90,-0.80 0.70,-0.30 1.80,0.20 2.30,1.00 2.50,1.80 2.30,2.90 1.80,3.60 0.70,4.00 -0.70,4.00 -1.80,3.60 -2.30,2.90 -2.50,1.80 -2.30,1.00 -1.80,0.20 -0.70,-0.30 0.90,-0.80 1.70,-1.30 2.10,-2.10 2.10,-2.80 1.70,-3.60 0.60,-4.00 -0.60,-4.00"/><polyline points="9.10,-2.90 8.70,-3.60 7.70,-4.00 6.90,-4.00 5.80,-3.50 5.00,-2.40 4.60,-0.60 4.60,1.40 5.00,2.90 5.80,3.70 6.80,4.00 7.30,4.00 8.40,3.60 9.10,2.80 9.50,1.60 9.50,1.20 9.10,0.00 8.40,-0.80 7.30,-1.10 6.80,-1.10 5.80,-0.70 5.00,0.10 4.60,1.20"/></g>

<polyline class="k" points="448.75,301.25 449.4,295 447.5,293 443.75,295.6 440,301.25 435,308.75 428.75,317.5 423.75,325 419.5,331.25 425,337.5 423.75,346.25 422.5,352.5 423.75,356.25"/>
<polyline class="k" points="415,222.5 415,227.5 425,233.75 435,242.5 441.25,250 452.5,253.75 462.5,257.5 470.6,265 480,268 486.25,270.6 490,273.75 490.6,277.5 486.25,280.6 482.5,284.4 477.5,284.4 470,284.4 467.5,286.9 468,289.4 471.9,291.9 473.75,294.4 471.9,298 472.5,301.9"/>
<polyline class="k" points="448.75,301.25 450.6,305 453.75,308 461.25,304.4 470,301.25 472.5,301.9 476.9,305 479.4,310 481.25,315 482.5,319.4 488.75,320.6 495,323 500,326.25 503,331.25 505.6,338.75 507.5,346.25 508,350 505.6,352.5 505,355.6 508.75,357.5 513.75,356.25 516.9,353 518,350 516.9,346.25 517.5,342 520,339.4 525,336.9 531.25,334.4 537.5,331.25 541.25,330 545,331.25 547.5,333.75 553.75,333.75 555.6,330.6 559.4,326.9 561.9,327.5"/>

</g>
<g>
<polyline class="r" points="213,67 227.5,80 230,91.25 237.5,100 250,106.25 255,125 251.25,135 248.75,138.75 249.4,145 252.5,153.75 254.4,158.75 254.4,164.4 258.75,166.9 260,169.4 269.25,177 276.9,182.5 282.5,186.9 287.5,188.75 291.25,186.9 294.4,189.4 295,194.4 301.25,198.75 307.5,206.25 309.4,211.25 310,216.9 315,218.75 318.75,221.25 320,224.4 325,232.5 330,243 332.5,260 333.5,271.25 336.25,280 340.6,285 343,292.5 345,301.25 348.75,310 351.25,316.25 353.75,325 356.25,330 360.6,335 367.5,342.5 370,360 377.5,372.5 387.5,386.25 397.5,400 405,412.5 412.5,423.75 422.5,430 432.5,433.75 437.5,442.5 445,455 455,466.25 467.5,473.75 477.5,480 485,485 497,489.25 500,495 505,502.5 515,508.75 525,511.25 530,515 535,517.5 540,525 541.25,532.5 547.5,538.75 555,540.5 560,543.75 561.25,545.5"/>
<polyline class="r" points="143,172.25 148.75,176.25 155,181.25 162.5,187.5 170,194.4 176.25,200 181.25,205 187.5,210.6 195,217.5 200,222.5 205,227.5 205.6,231.25 211.25,237.5 217.5,243 225,248 232.5,255 237.5,261.25 241.9,267.5 246.9,272.5 250,276.9 253.75,283.75 257.5,292.5 262.5,302.5 267.5,310 273.75,320 280,330 283.75,335 295,346.25 301.25,356.25 305,365 308.75,376.25 312.5,386.25 317.5,397.5 321.25,407.5 325,415 330,427.5 337.5,437.5 345,450 352.5,462.5 362.5,475 375,487.5 387.5,500 400,515 412.5,527.5 425,538.75 432.5,546.25"/>
<polyline class="r" points="133.75,389.25 142.5,390.6 150,391.25 155,393.75 160.6,395.25 166.25,393.75 170.6,392.5 180,390 186.9,393 190,398 195,403.75 197.5,410 205,422.5 210,435 216.25,440 221.25,447.5 226.25,458.75 233.75,466.9 245,469.4 250,470.6 260,473.75 266.25,481.25 267.5,492.5 272.5,505 280,515 290,523.75 302.5,533.75 312.5,541.25 317.5,546.25"/>
<polyline class="r" points="633.75,67 630,72.5 625,78.75 624.5,82.5 628.75,85 635,83.75 640,80 646.25,78.75 657,78 668.75,83 675,86.25 678.75,91.25 676.25,98.75 670,105 665,112.5 662.5,122.5 657.5,132.5 653.75,145 655,160 658.75,172.5 662.5,185 666.25,197.5 669.4,202.5 672.5,207.5 676.25,212.5 681.25,218.75 685,222.5 687.5,223.5"/>
<polyline class="r" points="661.25,306.25 663.75,303.75 665,299.4 665,295.6 661.9,291.9 660.6,288 656.25,286.5 648.75,286.25 641.25,284.4 634.4,283 632.25,280 633,276.9 640,273.75 640.6,271.25 638.75,268 633.75,267.5 630,266.25 629.4,261.25 626.9,257.5 623,256.9 620,259.4 616.9,261.9 613.75,260 611.9,255 615,251.25 618.75,248 623,246.9 625,244.4 623,239.4 626.25,235.6 630.6,232.25 637.5,232.25 649,228 661.25,225.6 666.25,225.6 670,229.4 676.25,230 679.4,233.75 678,238.75 673.75,243 672.5,248.75 673,252.5 675,253.75 676.25,257.5 674.4,258 671.25,255.6 667.5,256.25 665,257.5"/>
<polyline class="r" points="658.75,252.5 665,257.5 668.75,261.25 671.25,266.25 673.75,270.6 676.25,272.5 682.5,272.5 684.4,272.25"/>
<polyline class="r" points="678.75,276.25 676.9,281.25 678.75,285.6 683.75,289.4 687.5,292.5"/>
<polyline class="r" points="671.25,265 672.5,268.75 676.25,272.5"/>
<polyline class="r" points="655.3,314.7 666.9,315.6 669.4,313 675,314.4 677.5,318.75 680,325 683.75,328.75 687.5,330.6"/>
<polyline class="r" points="565.6,328 565,332.5 568,336.25 572.5,336.25 575,333.75 575.6,330"/>
<rect x="321.3" y="198.8" width="1.5" height="1.5" fill="#fa3c3c"/><rect x="654.9" y="237.3" width="1.5" height="1.5" fill="#fa3c3c"/><rect x="685.55" y="268.7" width="1.5" height="1.5" fill="#fa3c3c"/><rect x="685.55" y="331.8" width="1.5" height="1.5" fill="#fa3c3c"/><rect x="578.6999999999999" y="334.3" width="1.5" height="1.5" fill="#fa3c3c"/>
<rect transform="translate(335.6,69.8) rotate(0)" x="-11.1" y="-6.25" width="22.2" height="12.5" fill="#fff"/><g transform="translate(335.6,69.8) scale(0.95,0.95)" fill="none" stroke="#fa3c3c" stroke-width="0.95" shape-rendering="crispEdges" stroke-linejoin="round"><polyline points="-10.20,0.40 -3.60,0.40"/><polyline points="-1.20,-2.40 -0.40,-2.80 0.80,-4.00 0.80,4.00"/><polyline points="4.90,-2.10 5.30,-3.00 6.20,-3.80 7.00,-4.00 7.80,-4.00 8.60,-3.60 9.20,-2.80 9.30,-1.90 9.00,-1.00 8.20,0.10 4.60,4.00 9.60,4.00"/></g>
<rect transform="translate(657,78) rotate(0)" x="-11.1" y="-6.25" width="22.2" height="12.5" fill="#fff"/><g transform="translate(657,78) scale(0.95,0.95)" fill="none" stroke="#fa3c3c" stroke-width="0.95" shape-rendering="crispEdges" stroke-linejoin="round"><polyline points="-10.20,0.40 -3.60,0.40"/><polyline points="-1.20,-2.40 -0.40,-2.80 0.80,-4.00 0.80,4.00"/><polyline points="4.90,-2.10 5.30,-3.00 6.20,-3.80 7.00,-4.00 7.80,-4.00 8.60,-3.60 9.20,-2.80 9.30,-1.90 9.00,-1.00 8.20,0.10 4.60,4.00 9.60,4.00"/></g>
<rect transform="translate(649,228) rotate(0)" x="-11.1" y="-6.25" width="22.2" height="12.5" fill="#fff"/><g transform="translate(649,228) scale(0.95,0.95)" fill="none" stroke="#fa3c3c" stroke-width="0.95" shape-rendering="crispEdges" stroke-linejoin="round"><polyline points="-10.20,0.40 -3.60,0.40"/><polyline points="-1.20,-2.40 -0.40,-2.80 0.80,-4.00 0.80,4.00"/><polyline points="4.90,-2.10 5.30,-3.00 6.20,-3.80 7.00,-4.00 7.80,-4.00 8.60,-3.60 9.20,-2.80 9.30,-1.90 9.00,-1.00 8.20,0.10 4.60,4.00 9.60,4.00"/></g>
<rect transform="translate(659,247.5) rotate(0)" x="-11.1" y="-6.25" width="22.2" height="12.5" fill="#fff"/><g transform="translate(659,247.5) scale(0.95,0.95)" fill="none" stroke="#fa3c3c" stroke-width="0.95" shape-rendering="crispEdges" stroke-linejoin="round"><polyline points="-10.20,0.40 -3.60,0.40"/><polyline points="-1.20,-2.40 -0.40,-2.80 0.80,-4.00 0.80,4.00"/><polyline points="4.90,-2.10 5.30,-3.00 6.20,-3.80 7.00,-4.00 7.80,-4.00 8.60,-3.60 9.20,-2.80 9.30,-1.90 9.00,-1.00 8.20,0.10 4.60,4.00 9.60,4.00"/></g>
<rect transform="translate(655,314.5) rotate(0)" x="-11.1" y="-6.25" width="22.2" height="12.5" fill="#fff"/><g transform="translate(655,314.5) scale(0.95,0.95)" fill="none" stroke="#fa3c3c" stroke-width="0.95" shape-rendering="crispEdges" stroke-linejoin="round"><polyline points="-10.20,0.40 -3.60,0.40"/><polyline points="-1.20,-2.40 -0.40,-2.80 0.80,-4.00 0.80,4.00"/><polyline points="4.90,-2.10 5.30,-3.00 6.20,-3.80 7.00,-4.00 7.80,-4.00 8.60,-3.60 9.20,-2.80 9.30,-1.90 9.00,-1.00 8.20,0.10 4.60,4.00 9.60,4.00"/></g>
<rect transform="translate(660,329) rotate(-12)" x="-11.1" y="-6.25" width="22.2" height="12.5" fill="#fff"/><g transform="translate(660,329) rotate(-12) scale(0.95,0.95)" fill="none" stroke="#fa3c3c" stroke-width="0.95" shape-rendering="crispEdges" stroke-linejoin="round"><polyline points="-10.20,0.40 -3.60,0.40"/><polyline points="-1.20,-2.40 -0.40,-2.80 0.80,-4.00 0.80,4.00"/><polyline points="4.90,-2.10 5.30,-3.00 6.20,-3.80 7.00,-4.00 7.80,-4.00 8.60,-3.60 9.20,-2.80 9.30,-1.90 9.00,-1.00 8.20,0.10 4.60,4.00 9.60,4.00"/></g>
<rect transform="translate(573,323.5) rotate(0)" x="-11.1" y="-6.25" width="22.2" height="12.5" fill="#fff"/><g transform="translate(573,323.5) scale(0.95,0.95)" fill="none" stroke="#fa3c3c" stroke-width="0.95" shape-rendering="crispEdges" stroke-linejoin="round"><polyline points="-10.20,0.40 -3.60,0.40"/><polyline points="-1.20,-2.40 -0.40,-2.80 0.80,-4.00 0.80,4.00"/><polyline points="4.90,-2.10 5.30,-3.00 6.20,-3.80 7.00,-4.00 7.80,-4.00 8.60,-3.60 9.20,-2.80 9.30,-1.90 9.00,-1.00 8.20,0.10 4.60,4.00 9.60,4.00"/></g>
<rect transform="translate(608,359.5) rotate(0)" x="-11.1" y="-6.25" width="22.2" height="12.5" fill="#fff"/><g transform="translate(608,359.5) scale(0.95,0.95)" fill="none" stroke="#fa3c3c" stroke-width="0.95" shape-rendering="crispEdges" stroke-linejoin="round"><polyline points="-10.20,0.40 -3.60,0.40"/><polyline points="-1.20,-2.40 -0.40,-2.80 0.80,-4.00 0.80,4.00"/><polyline points="4.90,-2.10 5.30,-3.00 6.20,-3.80 7.00,-4.00 7.80,-4.00 8.60,-3.60 9.20,-2.80 9.30,-1.90 9.00,-1.00 8.20,0.10 4.60,4.00 9.60,4.00"/></g>
<rect transform="translate(682.2,337) rotate(-18)" x="-11.1" y="-6.25" width="22.2" height="12.5" fill="#fff"/><g transform="translate(682.2,337) rotate(-18) scale(0.95,0.95)" fill="none" stroke="#fa3c3c" stroke-width="0.95" shape-rendering="crispEdges" stroke-linejoin="round"><polyline points="-10.20,0.40 -3.60,0.40"/><polyline points="-1.20,-2.40 -0.40,-2.80 0.80,-4.00 0.80,4.00"/><polyline points="4.90,-2.10 5.30,-3.00 6.20,-3.80 7.00,-4.00 7.80,-4.00 8.60,-3.60 9.20,-2.80 9.30,-1.90 9.00,-1.00 8.20,0.10 4.60,4.00 9.60,4.00"/></g>
<rect transform="translate(269.25,177) rotate(0)" x="-11.1" y="-6.25" width="22.2" height="12.5" fill="#fff"/><g transform="translate(269.25,177) scale(0.95,0.95)" fill="none" stroke="#fa3c3c" stroke-width="0.95" shape-rendering="crispEdges" stroke-linejoin="round"><polyline points="-10.20,0.40 -3.60,0.40"/><polyline points="-1.20,-2.40 -0.40,-2.80 0.80,-4.00 0.80,4.00"/><polyline points="6.60,-4.00 7.60,-4.00 8.80,-3.20 9.60,-1.40 9.60,1.40 8.80,3.20 7.60,4.00 6.60,4.00 5.40,3.20 4.60,1.40 4.60,-1.40 5.40,-3.20 6.60,-4.00"/></g>
<rect transform="translate(497,489.25) rotate(0)" x="-11.1" y="-6.25" width="22.2" height="12.5" fill="#fff"/><g transform="translate(497,489.25) scale(0.95,0.95)" fill="none" stroke="#fa3c3c" stroke-width="0.95" shape-rendering="crispEdges" stroke-linejoin="round"><polyline points="-10.20,0.40 -3.60,0.40"/><polyline points="-1.20,-2.40 -0.40,-2.80 0.80,-4.00 0.80,4.00"/><polyline points="6.60,-4.00 7.60,-4.00 8.80,-3.20 9.60,-1.40 9.60,1.40 8.80,3.20 7.60,4.00 6.60,4.00 5.40,3.20 4.60,1.40 4.60,-1.40 5.40,-3.20 6.60,-4.00"/></g>
<g transform="translate(135.7,168.2) rotate(20) scale(0.95,0.95)" fill="none" stroke="#fa3c3c" stroke-width="0.95" shape-rendering="crispEdges" stroke-linejoin="round"><polyline points="-6.70,0.40 -0.10,0.40"/><polyline points="3.00,-4.00 1.90,-3.60 1.50,-2.80 1.50,-2.10 1.90,-1.30 2.70,-0.80 4.30,-0.30 5.40,0.20 5.90,1.00 6.10,1.80 5.90,2.90 5.40,3.60 4.30,4.00 2.90,4.00 1.80,3.60 1.30,2.90 1.10,1.80 1.30,1.00 1.80,0.20 2.90,-0.30 4.50,-0.80 5.30,-1.30 5.70,-2.10 5.70,-2.80 5.30,-3.60 4.20,-4.00 3.00,-4.00"/></g>
<rect transform="translate(180,390) rotate(0)" x="-7.6" y="-6.25" width="15.2" height="12.5" fill="#fff"/><g transform="translate(180,390) scale(0.95,0.95)" fill="none" stroke="#fa3c3c" stroke-width="0.95" shape-rendering="crispEdges" stroke-linejoin="round"><polyline points="-6.70,0.40 -0.10,0.40"/><polyline points="5.70,-2.90 5.30,-3.60 4.30,-4.00 3.50,-4.00 2.40,-3.50 1.60,-2.40 1.20,-0.60 1.20,1.40 1.60,2.90 2.40,3.70 3.40,4.00 3.90,4.00 5.00,3.60 5.70,2.80 6.10,1.60 6.10,1.20 5.70,0.00 5.00,-0.80 3.90,-1.10 3.40,-1.10 2.40,-0.70 1.60,0.10 1.20,1.20"/></g>

</g>
</g>
<rect x="133" y="66" width="555" height="480" fill="none" stroke="#000" stroke-width="2" shape-rendering="crispEdges"/>
<line x1="133.5" y1="547" x2="133.5" y2="549.5" stroke="#000" stroke-width="1" shape-rendering="crispEdges"/>
<g transform="translate(134,556.6) scale(0.9384,1.02)" fill="none" stroke="#000" stroke-width="0.95" shape-rendering="crispEdges" stroke-linejoin="round"><polyline points="-8.30,-2.40 -7.50,-2.80 -6.30,-4.00 -6.30,4.00"/><polyline points="2.00,-4.00 -1.80,-4.00 -2.20,-0.60 -1.60,-1.00 -0.50,-1.30 0.50,-1.30 1.60,-0.90 2.30,0.00 2.50,1.20 2.30,2.40 1.60,3.40 0.50,4.00 -0.50,4.00 -1.60,3.60 -2.20,3.10 -2.50,2.40"/><polyline points="9.30,-4.00 4.80,-4.00 4.80,4.00 9.30,4.00"/><polyline points="4.80,-0.20 7.80,-0.20"/></g>
<line x1="199.5" y1="547" x2="199.5" y2="549.5" stroke="#000" stroke-width="1" shape-rendering="crispEdges"/>
<g transform="translate(200,556.6) scale(0.9384,1.02)" fill="none" stroke="#000" stroke-width="0.95" shape-rendering="crispEdges" stroke-linejoin="round"><polyline points="-8.30,-2.40 -7.50,-2.80 -6.30,-4.00 -6.30,4.00"/><polyline points="2.10,-2.90 1.70,-3.60 0.70,-4.00 -0.10,-4.00 -1.20,-3.50 -2.00,-2.40 -2.40,-0.60 -2.40,1.40 -2.00,2.90 -1.20,3.70 -0.20,4.00 0.30,4.00 1.40,3.60 2.10,2.80 2.50,1.60 2.50,1.20 2.10,0.00 1.40,-0.80 0.30,-1.10 -0.20,-1.10 -1.20,-0.70 -2.00,0.10 -2.40,1.20"/><polyline points="9.30,-4.00 4.80,-4.00 4.80,4.00 9.30,4.00"/><polyline points="4.80,-0.20 7.80,-0.20"/></g>
<line x1="266.5" y1="547" x2="266.5" y2="549.5" stroke="#000" stroke-width="1" shape-rendering="crispEdges"/>
<g transform="translate(266,556.6) scale(0.9384,1.02)" fill="none" stroke="#000" stroke-width="0.95" shape-rendering="crispEdges" stroke-linejoin="round"><polyline points="-8.30,-2.40 -7.50,-2.80 -6.30,-4.00 -6.30,4.00"/><polyline points="-2.50,-4.00 2.50,-4.00 -1.10,4.00"/><polyline points="9.30,-4.00 4.80,-4.00 4.80,4.00 9.30,4.00"/><polyline points="4.80,-0.20 7.80,-0.20"/></g>
<line x1="333.5" y1="547" x2="333.5" y2="549.5" stroke="#000" stroke-width="1" shape-rendering="crispEdges"/>
<g transform="translate(334,556.6) scale(0.9384,1.02)" fill="none" stroke="#000" stroke-width="0.95" shape-rendering="crispEdges" stroke-linejoin="round"><polyline points="-8.30,-2.40 -7.50,-2.80 -6.30,-4.00 -6.30,4.00"/><polyline points="-0.60,-4.00 -1.70,-3.60 -2.10,-2.80 -2.10,-2.10 -1.70,-1.30 -0.90,-0.80 0.70,-0.30 1.80,0.20 2.30,1.00 2.50,1.80 2.30,2.90 1.80,3.60 0.70,4.00 -0.70,4.00 -1.80,3.60 -2.30,2.90 -2.50,1.80 -2.30,1.00 -1.80,0.20 -0.70,-0.30 0.90,-0.80 1.70,-1.30 2.10,-2.10 2.10,-2.80 1.70,-3.60 0.60,-4.00 -0.60,-4.00"/><polyline points="9.30,-4.00 4.80,-4.00 4.80,4.00 9.30,4.00"/><polyline points="4.80,-0.20 7.80,-0.20"/></g>
<line x1="399.5" y1="547" x2="399.5" y2="549.5" stroke="#000" stroke-width="1" shape-rendering="crispEdges"/>
<g transform="translate(400,556.6) scale(0.9384,1.02)" fill="none" stroke="#000" stroke-width="0.95" shape-rendering="crispEdges" stroke-linejoin="round"><polyline points="-8.30,-2.40 -7.50,-2.80 -6.30,-4.00 -6.30,4.00"/><polyline points="2.40,-1.30 2.00,-0.10 1.20,0.70 0.20,1.10 -0.20,1.10 -1.30,0.70 -2.10,-0.10 -2.50,-1.30 -2.50,-1.70 -2.10,-2.90 -1.30,-3.60 -0.20,-4.00 0.20,-4.00 1.20,-3.60 2.00,-2.90 2.40,-1.30 2.40,0.60 2.00,2.40 1.20,3.60 0.20,4.00 -0.60,4.00 -1.70,3.60 -2.10,2.90"/><polyline points="9.30,-4.00 4.80,-4.00 4.80,4.00 9.30,4.00"/><polyline points="4.80,-0.20 7.80,-0.20"/></g>
<line x1="466.5" y1="547" x2="466.5" y2="549.5" stroke="#000" stroke-width="1" shape-rendering="crispEdges"/>
<g transform="translate(466,556.6) scale(0.9384,1.02)" fill="none" stroke="#000" stroke-width="0.95" shape-rendering="crispEdges" stroke-linejoin="round"><polyline points="-9.20,-2.10 -8.80,-3.00 -7.90,-3.80 -7.10,-4.00 -6.30,-4.00 -5.50,-3.60 -4.90,-2.80 -4.80,-1.90 -5.10,-1.00 -5.90,0.10 -9.50,4.00 -4.50,4.00"/><polyline points="-0.50,-4.00 0.50,-4.00 1.70,-3.20 2.50,-1.40 2.50,1.40 1.70,3.20 0.50,4.00 -0.50,4.00 -1.70,3.20 -2.50,1.40 -2.50,-1.40 -1.70,-3.20 -0.50,-4.00"/><polyline points="9.30,-4.00 4.80,-4.00 4.80,4.00 9.30,4.00"/><polyline points="4.80,-0.20 7.80,-0.20"/></g>
<line x1="533.5" y1="547" x2="533.5" y2="549.5" stroke="#000" stroke-width="1" shape-rendering="crispEdges"/>
<g transform="translate(534,556.6) scale(0.9384,1.02)" fill="none" stroke="#000" stroke-width="0.95" shape-rendering="crispEdges" stroke-linejoin="round"><polyline points="-9.20,-2.10 -8.80,-3.00 -7.90,-3.80 -7.10,-4.00 -6.30,-4.00 -5.50,-3.60 -4.90,-2.80 -4.80,-1.90 -5.10,-1.00 -5.90,0.10 -9.50,4.00 -4.50,4.00"/><polyline points="-1.30,-2.40 -0.50,-2.80 0.70,-4.00 0.70,4.00"/><polyline points="9.30,-4.00 4.80,-4.00 4.80,4.00 9.30,4.00"/><polyline points="4.80,-0.20 7.80,-0.20"/></g>
<line x1="599.5" y1="547" x2="599.5" y2="549.5" stroke="#000" stroke-width="1" shape-rendering="crispEdges"/>
<g transform="translate(600,556.6) scale(0.9384,1.02)" fill="none" stroke="#000" stroke-width="0.95" shape-rendering="crispEdges" stroke-linejoin="round"><polyline points="-9.20,-2.10 -8.80,-3.00 -7.90,-3.80 -7.10,-4.00 -6.30,-4.00 -5.50,-3.60 -4.90,-2.80 -4.80,-1.90 -5.10,-1.00 -5.90,0.10 -9.50,4.00 -4.50,4.00"/><polyline points="-2.20,-2.10 -1.80,-3.00 -0.90,-3.80 -0.10,-4.00 0.70,-4.00 1.50,-3.60 2.10,-2.80 2.20,-1.90 1.90,-1.00 1.10,0.10 -2.50,4.00 2.50,4.00"/><polyline points="9.30,-4.00 4.80,-4.00 4.80,4.00 9.30,4.00"/><polyline points="4.80,-0.20 7.80,-0.20"/></g>
<line x1="666.5" y1="547" x2="666.5" y2="549.5" stroke="#000" stroke-width="1" shape-rendering="crispEdges"/>
<g transform="translate(666,556.6) scale(0.9384,1.02)" fill="none" stroke="#000" stroke-width="0.95" shape-rendering="crispEdges" stroke-linejoin="round"><polyline points="-9.20,-2.10 -8.80,-3.00 -7.90,-3.80 -7.10,-4.00 -6.30,-4.00 -5.50,-3.60 -4.90,-2.80 -4.80,-1.90 -5.10,-1.00 -5.90,0.10 -9.50,4.00 -4.50,4.00"/><polyline points="-2.00,-4.00 2.20,-4.00 -0.10,-0.90 1.00,-0.90 1.80,-0.50 2.40,0.60 2.40,1.60 2.00,2.90 1.20,3.70 0.10,4.00 -0.90,4.00 -1.90,3.60 -2.50,2.80"/><polyline points="9.30,-4.00 4.80,-4.00 4.80,4.00 9.30,4.00"/><polyline points="4.80,-0.20 7.80,-0.20"/></g>
<line x1="129.5" y1="66.5" x2="132" y2="66.5" stroke="#000" stroke-width="1" shape-rendering="crispEdges"/>
<g transform="translate(125.5,66.4) scale(0.9384,1.02)" fill="none" stroke="#000" stroke-width="0.95" shape-rendering="crispEdges" stroke-linejoin="round"><polyline points="-25.80,-4.00 -29.40,1.40 -24.20,1.40"/><polyline points="-25.80,-4.00 -25.80,4.00"/><polyline points="-17.90,-4.00 -21.70,-4.00 -22.10,-0.60 -21.50,-1.00 -20.40,-1.30 -19.40,-1.30 -18.30,-0.90 -17.60,0.00 -17.40,1.20 -17.60,2.40 -18.30,3.40 -19.40,4.00 -20.40,4.00 -21.50,3.60 -22.10,3.10 -22.40,2.40"/><rect x="-13.80" y="2.7" width="1.4" height="1.4" fill="#000" stroke="none"/><polyline points="-7.50,-4.00 -11.30,-4.00 -11.70,-0.60 -11.10,-1.00 -10.00,-1.30 -9.00,-1.30 -7.90,-0.90 -7.20,0.00 -7.00,1.20 -7.20,2.40 -7.90,3.40 -9.00,4.00 -10.00,4.00 -11.10,3.60 -11.70,3.10 -12.00,2.40"/><polyline points="-4.80,4.00 -4.80,-4.00 0.00,4.00 0.00,-4.00"/></g>
<line x1="129.5" y1="106.5" x2="132" y2="106.5" stroke="#000" stroke-width="1" shape-rendering="crispEdges"/>
<g transform="translate(125.5,106.4) scale(0.9384,1.02)" fill="none" stroke="#000" stroke-width="0.95" shape-rendering="crispEdges" stroke-linejoin="round"><polyline points="-15.40,-4.00 -19.00,1.40 -13.80,1.40"/><polyline points="-15.40,-4.00 -15.40,4.00"/><polyline points="-7.50,-4.00 -11.30,-4.00 -11.70,-0.60 -11.10,-1.00 -10.00,-1.30 -9.00,-1.30 -7.90,-0.90 -7.20,0.00 -7.00,1.20 -7.20,2.40 -7.90,3.40 -9.00,4.00 -10.00,4.00 -11.10,3.60 -11.70,3.10 -12.00,2.40"/><polyline points="-4.80,4.00 -4.80,-4.00 0.00,4.00 0.00,-4.00"/></g>
<line x1="129.5" y1="146.5" x2="132" y2="146.5" stroke="#000" stroke-width="1" shape-rendering="crispEdges"/>
<g transform="translate(125.5,146.4) scale(0.9384,1.02)" fill="none" stroke="#000" stroke-width="0.95" shape-rendering="crispEdges" stroke-linejoin="round"><polyline points="-25.80,-4.00 -29.40,1.40 -24.20,1.40"/><polyline points="-25.80,-4.00 -25.80,4.00"/><polyline points="-18.80,-4.00 -22.40,1.40 -17.20,1.40"/><polyline points="-18.80,-4.00 -18.80,4.00"/><rect x="-13.80" y="2.7" width="1.4" height="1.4" fill="#000" stroke="none"/><polyline points="-7.50,-4.00 -11.30,-4.00 -11.70,-0.60 -11.10,-1.00 -10.00,-1.30 -9.00,-1.30 -7.90,-0.90 -7.20,0.00 -7.00,1.20 -7.20,2.40 -7.90,3.40 -9.00,4.00 -10.00,4.00 -11.10,3.60 -11.70,3.10 -12.00,2.40"/><polyline points="-4.80,4.00 -4.80,-4.00 0.00,4.00 0.00,-4.00"/></g>
<line x1="129.5" y1="186.5" x2="132" y2="186.5" stroke="#000" stroke-width="1" shape-rendering="crispEdges"/>
<g transform="translate(125.5,186.4) scale(0.9384,1.02)" fill="none" stroke="#000" stroke-width="0.95" shape-rendering="crispEdges" stroke-linejoin="round"><polyline points="-15.40,-4.00 -19.00,1.40 -13.80,1.40"/><polyline points="-15.40,-4.00 -15.40,4.00"/><polyline points="-8.40,-4.00 -12.00,1.40 -6.80,1.40"/><polyline points="-8.40,-4.00 -8.40,4.00"/><polyline points="-4.80,4.00 -4.80,-4.00 0.00,4.00 0.00,-4.00"/></g>
<line x1="129.5" y1="226.5" x2="132" y2="226.5" stroke="#000" stroke-width="1" shape-rendering="crispEdges"/>
<g transform="translate(125.5,226.4) scale(0.9384,1.02)" fill="none" stroke="#000" stroke-width="0.95" shape-rendering="crispEdges" stroke-linejoin="round"><polyline points="-25.80,-4.00 -29.40,1.40 -24.20,1.40"/><polyline points="-25.80,-4.00 -25.80,4.00"/><polyline points="-21.90,-4.00 -17.70,-4.00 -20.00,-0.90 -18.90,-0.90 -18.10,-0.50 -17.50,0.60 -17.50,1.60 -17.90,2.90 -18.70,3.70 -19.80,4.00 -20.80,4.00 -21.80,3.60 -22.40,2.80"/><rect x="-13.80" y="2.7" width="1.4" height="1.4" fill="#000" stroke="none"/><polyline points="-7.50,-4.00 -11.30,-4.00 -11.70,-0.60 -11.10,-1.00 -10.00,-1.30 -9.00,-1.30 -7.90,-0.90 -7.20,0.00 -7.00,1.20 -7.20,2.40 -7.90,3.40 -9.00,4.00 -10.00,4.00 -11.10,3.60 -11.70,3.10 -12.00,2.40"/><polyline points="-4.80,4.00 -4.80,-4.00 0.00,4.00 0.00,-4.00"/></g>
<line x1="129.5" y1="266.5" x2="132" y2="266.5" stroke="#000" stroke-width="1" shape-rendering="crispEdges"/>
<g transform="translate(125.5,266.4) scale(0.9384,1.02)" fill="none" stroke="#000" stroke-width="0.95" shape-rendering="crispEdges" stroke-linejoin="round"><polyline points="-15.40,-4.00 -19.00,1.40 -13.80,1.40"/><polyline points="-15.40,-4.00 -15.40,4.00"/><polyline points="-11.50,-4.00 -7.30,-4.00 -9.60,-0.90 -8.50,-0.90 -7.70,-0.50 -7.10,0.60 -7.10,1.60 -7.50,2.90 -8.30,3.70 -9.40,4.00 -10.40,4.00 -11.40,3.60 -12.00,2.80"/><polyline points="-4.80,4.00 -4.80,-4.00 0.00,4.00 0.00,-4.00"/></g>
<line x1="129.5" y1="306.5" x2="132" y2="306.5" stroke="#000" stroke-width="1" shape-rendering="crispEdges"/>
<g transform="translate(125.5,306.4) scale(0.9384,1.02)" fill="none" stroke="#000" stroke-width="0.95" shape-rendering="crispEdges" stroke-linejoin="round"><polyline points="-25.80,-4.00 -29.40,1.40 -24.20,1.40"/><polyline points="-25.80,-4.00 -25.80,4.00"/><polyline points="-22.10,-2.10 -21.70,-3.00 -20.80,-3.80 -20.00,-4.00 -19.20,-4.00 -18.40,-3.60 -17.80,-2.80 -17.70,-1.90 -18.00,-1.00 -18.80,0.10 -22.40,4.00 -17.40,4.00"/><rect x="-13.80" y="2.7" width="1.4" height="1.4" fill="#000" stroke="none"/><polyline points="-7.50,-4.00 -11.30,-4.00 -11.70,-0.60 -11.10,-1.00 -10.00,-1.30 -9.00,-1.30 -7.90,-0.90 -7.20,0.00 -7.00,1.20 -7.20,2.40 -7.90,3.40 -9.00,4.00 -10.00,4.00 -11.10,3.60 -11.70,3.10 -12.00,2.40"/><polyline points="-4.80,4.00 -4.80,-4.00 0.00,4.00 0.00,-4.00"/></g>
<line x1="129.5" y1="346.5" x2="132" y2="346.5" stroke="#000" stroke-width="1" shape-rendering="crispEdges"/>
<g transform="translate(125.5,346.4) scale(0.9384,1.02)" fill="none" stroke="#000" stroke-width="0.95" shape-rendering="crispEdges" stroke-linejoin="round"><polyline points="-15.40,-4.00 -19.00,1.40 -13.80,1.40"/><polyline points="-15.40,-4.00 -15.40,4.00"/><polyline points="-11.70,-2.10 -11.30,-3.00 -10.40,-3.80 -9.60,-4.00 -8.80,-4.00 -8.00,-3.60 -7.40,-2.80 -7.30,-1.90 -7.60,-1.00 -8.40,0.10 -12.00,4.00 -7.00,4.00"/><polyline points="-4.80,4.00 -4.80,-4.00 0.00,4.00 0.00,-4.00"/></g>
<line x1="129.5" y1="386.5" x2="132" y2="386.5" stroke="#000" stroke-width="1" shape-rendering="crispEdges"/>
<g transform="translate(125.5,386.4) scale(0.9384,1.02)" fill="none" stroke="#000" stroke-width="0.95" shape-rendering="crispEdges" stroke-linejoin="round"><polyline points="-25.80,-4.00 -29.40,1.40 -24.20,1.40"/><polyline points="-25.80,-4.00 -25.80,4.00"/><polyline points="-21.20,-2.40 -20.40,-2.80 -19.20,-4.00 -19.20,4.00"/><rect x="-13.80" y="2.7" width="1.4" height="1.4" fill="#000" stroke="none"/><polyline points="-7.50,-4.00 -11.30,-4.00 -11.70,-0.60 -11.10,-1.00 -10.00,-1.30 -9.00,-1.30 -7.90,-0.90 -7.20,0.00 -7.00,1.20 -7.20,2.40 -7.90,3.40 -9.00,4.00 -10.00,4.00 -11.10,3.60 -11.70,3.10 -12.00,2.40"/><polyline points="-4.80,4.00 -4.80,-4.00 0.00,4.00 0.00,-4.00"/></g>
<line x1="129.5" y1="426.5" x2="132" y2="426.5" stroke="#000" stroke-width="1" shape-rendering="crispEdges"/>
<g transform="translate(125.5,426.4) scale(0.9384,1.02)" fill="none" stroke="#000" stroke-width="0.95" shape-rendering="crispEdges" stroke-linejoin="round"><polyline points="-15.40,-4.00 -19.00,1.40 -13.80,1.40"/><polyline points="-15.40,-4.00 -15.40,4.00"/><polyline points="-10.80,-2.40 -10.00,-2.80 -8.80,-4.00 -8.80,4.00"/><polyline points="-4.80,4.00 -4.80,-4.00 0.00,4.00 0.00,-4.00"/></g>
<line x1="129.5" y1="466.5" x2="132" y2="466.5" stroke="#000" stroke-width="1" shape-rendering="crispEdges"/>
<g transform="translate(125.5,466.4) scale(0.9384,1.02)" fill="none" stroke="#000" stroke-width="0.95" shape-rendering="crispEdges" stroke-linejoin="round"><polyline points="-25.80,-4.00 -29.40,1.40 -24.20,1.40"/><polyline points="-25.80,-4.00 -25.80,4.00"/><polyline points="-20.40,-4.00 -19.40,-4.00 -18.20,-3.20 -17.40,-1.40 -17.40,1.40 -18.20,3.20 -19.40,4.00 -20.40,4.00 -21.60,3.20 -22.40,1.40 -22.40,-1.40 -21.60,-3.20 -20.40,-4.00"/><rect x="-13.80" y="2.7" width="1.4" height="1.4" fill="#000" stroke="none"/><polyline points="-7.50,-4.00 -11.30,-4.00 -11.70,-0.60 -11.10,-1.00 -10.00,-1.30 -9.00,-1.30 -7.90,-0.90 -7.20,0.00 -7.00,1.20 -7.20,2.40 -7.90,3.40 -9.00,4.00 -10.00,4.00 -11.10,3.60 -11.70,3.10 -12.00,2.40"/><polyline points="-4.80,4.00 -4.80,-4.00 0.00,4.00 0.00,-4.00"/></g>
<line x1="129.5" y1="506.5" x2="132" y2="506.5" stroke="#000" stroke-width="1" shape-rendering="crispEdges"/>
<g transform="translate(125.5,506.4) scale(0.9384,1.02)" fill="none" stroke="#000" stroke-width="0.95" shape-rendering="crispEdges" stroke-linejoin="round"><polyline points="-15.40,-4.00 -19.00,1.40 -13.80,1.40"/><polyline points="-15.40,-4.00 -15.40,4.00"/><polyline points="-10.00,-4.00 -9.00,-4.00 -7.80,-3.20 -7.00,-1.40 -7.00,1.40 -7.80,3.20 -9.00,4.00 -10.00,4.00 -11.20,3.20 -12.00,1.40 -12.00,-1.40 -11.20,-3.20 -10.00,-4.00"/><polyline points="-4.80,4.00 -4.80,-4.00 0.00,4.00 0.00,-4.00"/></g>
<line x1="129.5" y1="546.5" x2="132" y2="546.5" stroke="#000" stroke-width="1" shape-rendering="crispEdges"/>
<g transform="translate(125.5,546.4) scale(0.9384,1.02)" fill="none" stroke="#000" stroke-width="0.95" shape-rendering="crispEdges" stroke-linejoin="round"><polyline points="-28.90,-4.00 -24.70,-4.00 -27.00,-0.90 -25.90,-0.90 -25.10,-0.50 -24.50,0.60 -24.50,1.60 -24.90,2.90 -25.70,3.70 -26.80,4.00 -27.80,4.00 -28.80,3.60 -29.40,2.80"/><polyline points="-17.50,-1.30 -17.90,-0.10 -18.70,0.70 -19.70,1.10 -20.10,1.10 -21.20,0.70 -22.00,-0.10 -22.40,-1.30 -22.40,-1.70 -22.00,-2.90 -21.20,-3.60 -20.10,-4.00 -19.70,-4.00 -18.70,-3.60 -17.90,-2.90 -17.50,-1.30 -17.50,0.60 -17.90,2.40 -18.70,3.60 -19.70,4.00 -20.50,4.00 -21.60,3.60 -22.00,2.90"/><rect x="-13.80" y="2.7" width="1.4" height="1.4" fill="#000" stroke="none"/><polyline points="-7.50,-4.00 -11.30,-4.00 -11.70,-0.60 -11.10,-1.00 -10.00,-1.30 -9.00,-1.30 -7.90,-0.90 -7.20,0.00 -7.00,1.20 -7.20,2.40 -7.90,3.40 -9.00,4.00 -10.00,4.00 -11.10,3.60 -11.70,3.10 -12.00,2.40"/><polyline points="-4.80,4.00 -4.80,-4.00 0.00,4.00 0.00,-4.00"/></g>
<text x="3.6" y="615.6" textLength="83.5" lengthAdjust="spacingAndGlyphs" style="font-size:10.4px">GrADS: COLA/IGES</text>
<text x="684" y="615.6" textLength="95" lengthAdjust="spacingAndGlyphs" style="font-size:10.8px">2021-07-03-23:04</text>
</svg>
</body></html>
